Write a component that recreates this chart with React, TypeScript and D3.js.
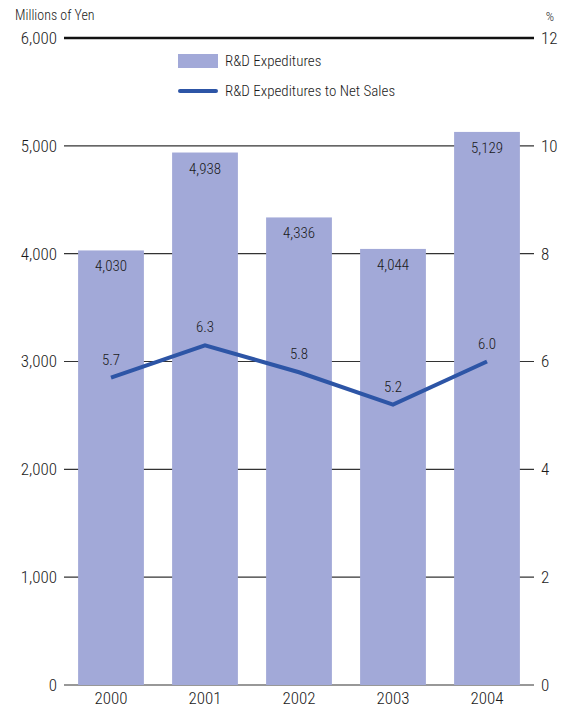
import React from "react";
import * as d3 from "d3";

const years = ["2000", "2001", "2002", "2003", "2004"];
const expenditures = [4030, 4938, 4336, 4044, 5129];
const ratio = [5.7, 6.3, 5.8, 5.2, 6.0];
const leftTicks = [0, 1000, 2000, 3000, 4000, 5000, 6000];
const rightTicks = [0, 2, 4, 6, 8, 10, 12];

const W = 569;
const H = 714;
const FONT = "'Roboto Condensed', 'Liberation Sans Narrow', 'Liberation Sans', Arial, sans-serif";
const BAR = "#a2a9d8";
const LINE = "#2d55a6";
const TEXT = "#1a1a1a";
const WEIGHT = 350;

export default function App() {
  const x = d3.scaleBand().domain(years).range([64, 534]).paddingInner(0.3).paddingOuter(0.15);
  const yL = d3.scaleLinear().domain([0, 6000]).range([685, 38]);
  const yR = d3.scaleLinear().domain([0, 12]).range([685, 38]);
  const fmt = d3.format(",");
  const line = d3
    .line<number>()
    .x((_, i) => (x(years[i]) as number) + x.bandwidth() / 2)
    .y((d) => yR(d));

  return (
    <div style={{ position: "absolute", left: 0, top: 0 }}>
      <svg width={W} height={H} style={{ display: "block", fontFamily: FONT, fontWeight: WEIGHT }}>
        <rect width={W} height={H} fill="#fff" />
        {leftTicks.map((t) => (
          <line
            key={t}
            x1={64}
            x2={534}
            y1={yL(t)}
            y2={yL(t)}
            stroke={t === 6000 ? "#111" : "#333"}
            strokeWidth={t === 6000 ? 2.5 : 1.2}
          />
        ))}
        {leftTicks.map((t) => (
          <text key={"l" + t} x={57} y={yL(t)} dy="0.35em" textAnchor="end" fontSize={17} fill={TEXT}>
            {fmt(t)}
          </text>
        ))}
        {rightTicks.map((t) => (
          <text key={"r" + t} x={541} y={yR(t)} dy="0.35em" textAnchor="start" fontSize={17} fill={TEXT}>
            {t}
          </text>
        ))}
        <text x={15} y={20} fontSize={14} fill={TEXT}>
          Millions of Yen
        </text>
        <text x={550} y={21} fontSize={13} fill={TEXT} textAnchor="middle">
          %
        </text>
        {expenditures.map((v, i) => (
          <rect
            key={"b" + i}
            x={x(years[i])}
            y={yL(v)}
            width={x.bandwidth()}
            height={yL(0) - yL(v)}
            fill={BAR}
          />
        ))}
        {expenditures.map((v, i) => (
          <text
            key={"bl" + i}
            x={(x(years[i]) as number) + x.bandwidth() / 2}
            y={yL(v) + 21}
            textAnchor="middle"
            fontSize={15}
            fill={TEXT}
          >
            {fmt(v)}
          </text>
        ))}
        <path d={line(ratio) || ""} fill="none" stroke={LINE} strokeWidth={4} strokeLinejoin="miter" />
        {ratio.map((v, i) => (
          <text
            key={"rl" + i}
            x={(x(years[i]) as number) + x.bandwidth() / 2}
            y={yR(v) - 13}
            textAnchor="middle"
            fontSize={15}
            fill={TEXT}
          >
            {v.toFixed(1)}
          </text>
        ))}
        {years.map((y) => (
          <text
            key={"x" + y}
            x={(x(y) as number) + x.bandwidth() / 2}
            y={704}
            textAnchor="middle"
            fontSize={17}
            fill={TEXT}
          >
            {y}
          </text>
        ))}
        <rect x={178} y={54} width={40} height={14} fill={BAR} />
        <text x={225} y={61} dy="0.35em" fontSize={15} fill={TEXT}>
          R&amp;D Expeditures
        </text>
        <line x1={180} x2={216} y1={91} y2={91} stroke={LINE} strokeWidth={4} strokeLinecap="round" />
        <text x={225} y={91} dy="0.35em" fontSize={15} fill={TEXT}>
          R&amp;D Expeditures to Net Sales
        </text>
      </svg>
    </div>
  );
}
